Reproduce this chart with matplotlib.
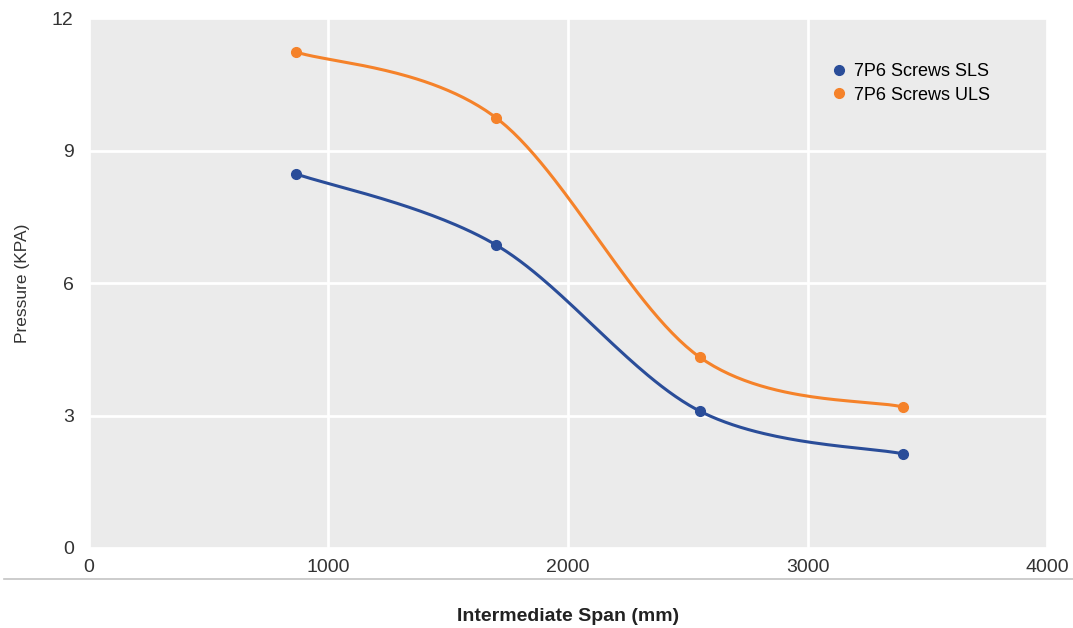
import numpy as np
import matplotlib.pyplot as plt
from matplotlib.lines import Line2D

# dados
span_mm = [865, 1700, 2550, 3400]
sls_kpa = [8.47, 6.86, 3.10, 2.13]
uls_kpa = [11.23, 9.74, 4.32, 3.19]
series_names = ['7P6 Screws SLS', '7P6 Screws ULS']
cor_sls = '#2a4d99'
cor_uls = '#f5822a'


def suavizar(x, y, n=60):
    # curva suave tipo Catmull-Rom (como a linha suavizada do Excel)
    x = np.asarray(x, float); y = np.asarray(y, float)
    px = np.concatenate([[x[0]], x, [x[-1]]])
    py = np.concatenate([[y[0]], y, [y[-1]]])
    xs, ys = [], []
    t = np.linspace(0, 1, n)
    for i in range(1, len(px) - 2):
        p0 = np.array([px[i], py[i]]); p3 = np.array([px[i + 1], py[i + 1]])
        p1 = p0 + (np.array([px[i + 1], py[i + 1]]) - np.array([px[i - 1], py[i - 1]])) / 6
        p2 = p3 - (np.array([px[i + 2], py[i + 2]]) - np.array([px[i], py[i]])) / 6
        b = ((1 - t) ** 3)[:, None] * p0 + (3 * (1 - t) ** 2 * t)[:, None] * p1 \
            + (3 * (1 - t) * t ** 2)[:, None] * p2 + (t ** 3)[:, None] * p3
        xs.append(b[:, 0]); ys.append(b[:, 1])
    return np.concatenate(xs), np.concatenate(ys)


plt.rcParams['font.family'] = ['Liberation Sans', 'DejaVu Sans']

fig = plt.figure(figsize=(10.73, 6.28), dpi=100)
ax = fig.add_axes([0.0829, 0.1274, 0.8929, 0.8439])
ax.set_facecolor('#ebebeb')

for vals, cor in [(sls_kpa, cor_sls), (uls_kpa, cor_uls)]:
    sx, sy = suavizar(span_mm, vals)
    ax.plot(sx, sy, color=cor, lw=2.2, zorder=3, solid_capstyle='round')
    ax.plot(span_mm, vals, 'o', color=cor, ms=7, zorder=4)

ax.set_xlim(0, 4000)
ax.set_ylim(0, 12)
ax.set_xticks([0, 1000, 2000, 3000, 4000])
ax.set_yticks([0, 3, 6, 9, 12])
ax.grid(True, color='white', lw=2)
ax.set_axisbelow(True)
for s in ax.spines.values():
    s.set_visible(False)
ax.tick_params(length=0, labelsize=14, colors='#333333')
ax.tick_params(axis='y', pad=11)
ax.tick_params(axis='x', pad=8)

ax.set_ylabel('Pressure (KPA)', fontsize=12.5, color='#333333', labelpad=16)
fig.text(0.529, 0.005, 'Intermediate Span (mm)', ha='center', va='bottom',
         fontsize=14, fontweight='bold', color='#222222')

# linha horizontal abaixo dos rótulos do eixo x
fig.add_artist(Line2D([0.004, 1.0], [1 - 579 / 628] * 2, color='#c4c4c4', lw=1.2))

handles = [Line2D([], [], marker='o', ls='none', color=c, ms=7) for c in (cor_sls, cor_uls)]
ax.legend(handles, series_names, loc='upper left', bbox_to_anchor=(0.757, 0.945),
          frameon=False, fontsize=13, handletextpad=0.3, labelspacing=0.35,
          handlelength=1.0)

fig.savefig('out.png', dpi=100)
